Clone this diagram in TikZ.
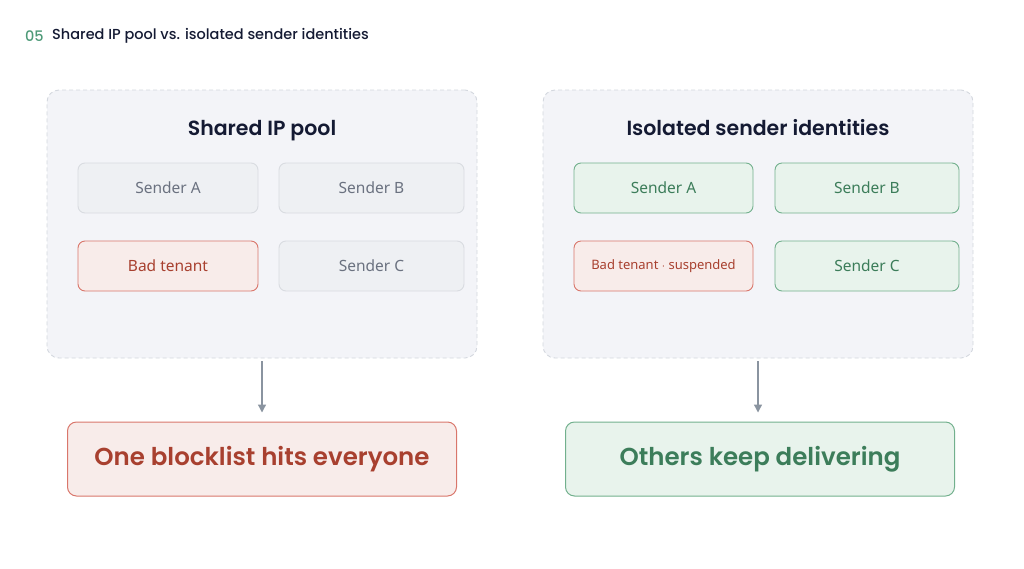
\documentclass[tikz,border=0pt]{standalone}
\usepackage{fontspec}
\setmainfont{Noto Sans}
\newfontfamily\headfont{Poppins}[UprightFont=* SemiBold, BoldFont=* SemiBold]
\newfontfamily\titlefont{Poppins}[UprightFont=* Medium]
\usetikzlibrary{arrows.meta, positioning}
\definecolor{ink}{HTML}{141A33}
\definecolor{numgreen}{HTML}{4E9A78}
\definecolor{panelfill}{HTML}{F3F4F8}
\definecolor{paneldraw}{HTML}{D3D7DE}
\definecolor{grayfill}{HTML}{EEF0F3}
\definecolor{graydraw}{HTML}{D9DCE1}
\definecolor{graytext}{HTML}{6B7280}
\definecolor{redfill}{HTML}{F8ECEA}
\definecolor{reddraw}{HTML}{D9766B}
\definecolor{redtext}{HTML}{A8402F}
\definecolor{greenfill}{HTML}{E8F3EC}
\definecolor{greendraw}{HTML}{72B08D}
\definecolor{greentext}{HTML}{3C7D5A}
\definecolor{arrowgray}{HTML}{8A94A0}

\begin{document}
\begin{tikzpicture}[
  x=1pt, y=-1pt,
  line join=round,
  panel/.style={draw=paneldraw, fill=panelfill, line width=0.9pt, dash pattern=on 4pt off 3pt,
    rounded corners=12pt, minimum width=430pt, minimum height=268pt, inner sep=0pt},
  heading/.style={anchor=base, font=\headfont\fontsize{20.5}{24}\selectfont, text=ink},
  sender/.style={rounded corners=7pt, line width=0.9pt, minimum height=50pt, inner sep=0pt,
    font=\fontsize{15.5}{18}\selectfont},
  grey/.style={sender, draw=graydraw, fill=grayfill, text=graytext},
  bad/.style={sender, draw=reddraw, fill=redfill, text=redtext},
  ok/.style={sender, draw=greendraw, fill=greenfill, text=greentext},
  result/.style={rounded corners=9pt, line width=1pt, minimum width=389pt, minimum height=74pt,
    inner sep=0pt, font=\headfont\fontsize{24.5}{28}\selectfont},
  flow/.style={draw=arrowgray, line width=1.3pt, -{Triangle[width=8pt,length=8pt]},
    shorten <=3pt, shorten >=9pt}
]
  \useasboundingbox (0,0) rectangle (1024,568);

  % title
  \node[anchor=west, inner sep=0pt, font=\titlefont\fontsize{14.5}{17}\selectfont, text=numgreen]
    (num) at (25,36) {05};
  \node[anchor=west, inner sep=0pt, font=\titlefont\fontsize{14.5}{17}\selectfont, text=ink]
    (title) at (52,36) {Shared IP pool vs. isolated sender identities};

  % left: shared pool
  \node[panel] (pool) at (262,224) {};
  \node[heading] (poolhead) at (262,135) {Shared IP pool};
  \node[grey, minimum width=180pt] (sa) at (168,188) {Sender A};
  \node[grey, minimum width=185pt] (sb) at (371.5,188) {Sender B};
  \node[bad,  minimum width=180pt] (bt) at (168,266) {Bad tenant};
  \node[grey, minimum width=185pt] (sc) at (371.5,266) {Sender C};

  % right: isolated identities
  \node[panel] (iso) at (758,224) {};
  \node[heading] (isohead) at (758,135) {Isolated sender identities};
  \node[ok,  minimum width=179pt] (ia) at (663.5,188) {Sender A};
  \node[ok,  minimum width=184pt] (ib) at (867,188) {Sender B};
  \node[bad, minimum width=179pt, font=\fontsize{13}{15}\selectfont] (ibt) at (663.5,266)
    {Bad tenant $\cdot$ suspended};
  \node[ok,  minimum width=184pt] (ic) at (867,266) {Sender C};

  % outcomes
  \node[result, draw=reddraw, fill=redfill, text=redtext] (hit) at (262,459)
    {\raisebox{-2pt}{One blocklist hits everyone}};
  \node[result, draw=greendraw, fill=greenfill, text=greentext] (keep) at (760,459)
    {\raisebox{-2pt}{Others keep delivering}};

  \draw[flow] (pool.south) -- (pool.south |- hit.north);
  \draw[flow] (iso.south) -- (iso.south |- keep.north);
\end{tikzpicture}
\end{document}
